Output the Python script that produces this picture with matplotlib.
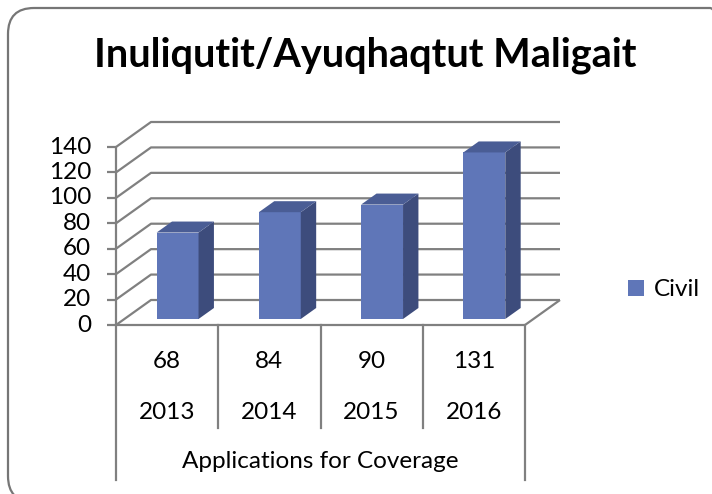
import matplotlib.pyplot as plt
import numpy as np
from matplotlib.patches import Polygon, FancyBboxPatch, Patch
from matplotlib.transforms import IdentityTransform, blended_transform_factory

plt.rcParams['font.family'] = ['Lato', 'DejaVu Sans']

years = ['2013', '2014', '2015', '2016']
civil = [68, 84, 90, 131]
yticks = [0, 20, 40, 60, 80, 100, 120, 140]
title = 'Inuliqutit/Ayuqhaqtut Maligait'
xlabel = 'Applications for Coverage'
series_name = 'Civil'

W, H = 712, 494
fig = plt.figure(figsize=(W / 100, H / 100), dpi=100)
ax = fig.add_axes([116 / W, 169 / H, 409 / W, 178 / H])
ax.set_xlim(-0.5, 3.5)
ax.set_ylim(0, 140)
ax.axis('off')

DEPTH = np.array([35.0, 25.0])  # pixel offset of the back wall
grid_c = '#808080'
front_c, side_c, top_c = '#5F76B8', '#3D4C7C', '#4A5D95'
fs = 17.5


def proj(x, v, d):
    return ax.transData.transform((x, v)) + d * DEPTH


def line(pts, **kw):
    pts = np.array(pts)
    ax.plot(pts[:, 0], pts[:, 1], transform=IdentityTransform(), clip_on=False,
            color=grid_c, lw=1.6, solid_capstyle='butt', **kw)


def poly(pts, color, z):
    ax.add_patch(Polygon(pts, closed=True, facecolor=color, edgecolor='none',
                         transform=IdentityTransform(), clip_on=False, zorder=z))


# back wall + side wall gridlines
for t in yticks:
    line([proj(-0.5, t, 0), proj(-0.5, t, 1), proj(3.5, t, 1)], zorder=1)

# floor
line([proj(-0.5, 0, 0), proj(3.5, 0, 0), proj(3.5, 0, 1)], zorder=1)

# front value axis with ticks
line([proj(-0.5, 0, 0), proj(-0.5, 140, 0)], zorder=1)
for t in yticks:
    p = proj(-0.5, t, 0)
    line([p - [9, 0], p], zorder=1)
    ax.text(p[0] - 25, p[1], str(t), transform=IdentityTransform(), ha='right',
            va='center', fontsize=fs, color='black')

# bars
d0, d1, w = 0.24, 0.68, 0.41
for i, v in enumerate(civil):
    xl, xr = i - w / 2 + 0.02, i + w / 2 + 0.02
    poly([proj(xl, 0, d0), proj(xr, 0, d0), proj(xr, v, d0), proj(xl, v, d0)], front_c, 3)
    poly([proj(xr, 0, d0), proj(xr, 0, d1), proj(xr, v, d1), proj(xr, v, d0)], side_c, 3)
    poly([proj(xl, v, d0), proj(xr, v, d0), proj(xr, v, d1), proj(xl, v, d1)], top_c, 3)

# data table below the plot
tb = blended_transform_factory(ax.transData, fig.transFigure)
for k, b in enumerate(np.arange(-0.5, 4.0, 1.0)):
    bottom = 14 / H if k in (0, 4) else 66 / H
    ax.plot([b, b], [169 / H, bottom], transform=tb, clip_on=False, color=grid_c, lw=1.6)
for i, (v, yr) in enumerate(zip(civil, years)):
    ax.text(i, 133 / H, str(v), transform=tb, ha='center', va='center', fontsize=fs)
    ax.text(i, 82 / H, yr, transform=tb, ha='center', va='center', fontsize=fs)
ax.text(1.5, 33 / H, xlabel, transform=tb, ha='center', va='center', fontsize=fs)

# legend
fig.legend(handles=[Patch(facecolor=front_c, edgecolor='none')], labels=[series_name],
           loc='center left', bbox_to_anchor=(628 / W, 204 / H), frameon=False,
           fontsize=fs, handlelength=0.65, handleheight=0.65, handletextpad=0.4,
           borderpad=0, borderaxespad=0)

fig.text(365 / W, 439 / H, title, ha='center', va='center', fontsize=28.5,
         fontweight='bold')

# chart border (rounded, runs off the right/bottom edges)
fig.add_artist(FancyBboxPatch((8, -8), 728, 494, boxstyle='round,pad=0,rounding_size=26',
                              facecolor='none', edgecolor='#767676', lw=1.6,
                              transform=IdentityTransform()))

fig.savefig('out.png', dpi=100, facecolor='white')
